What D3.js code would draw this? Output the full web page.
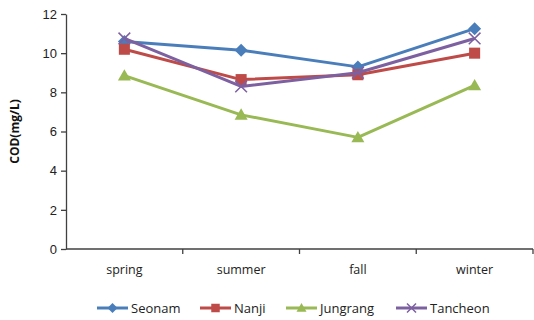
<!DOCTYPE html>
<html>
<head>
<meta charset="utf-8">
<script src="https://cdn.jsdelivr.net/npm/d3@7"></script>
<style>
  html, body { margin: 0; padding: 0; background: #ffffff; }
  svg { display: block; font-family: "Open Sans", "Liberation Sans", sans-serif; }
</style>
</head>
<body>
<svg id="chart" width="534" height="320"></svg>
<script>
// Seasonal COD concentration at four sites
const seasons = ["spring", "summer", "fall", "winter"];
const seonam   = [10.6, 10.15, 9.3, 11.25];
const nanji    = [10.2, 8.65, 8.9, 10.0];
const jungrang = [8.85, 6.85, 5.7, 8.35];
const tancheon = [10.75, 8.3, 9.0, 10.75];
const yTicks = [0, 2, 4, 6, 8, 10, 12];

const series = [
  { name: "Seonam",   values: seonam,   color: "#4a7ebb", marker: "diamond" },
  { name: "Nanji",    values: nanji,    color: "#be4b48", marker: "square" },
  { name: "Jungrang", values: jungrang, color: "#98b954", marker: "triangle" },
  { name: "Tancheon", values: tancheon, color: "#7d60a0", marker: "cross" }
];

const svg = d3.select("#chart");
const margin = { left: 66, right: 1, top: 14, bottom: 71 };
const W = 534, H = 320;

const x = d3.scaleBand().domain(seasons).range([margin.left, W - margin.right]);
const y = d3.scaleLinear().domain([0, 12]).range([H - margin.bottom, margin.top]);

// Y axis
const yAxis = svg.append("g")
  .attr("transform", `translate(${margin.left},0)`)
  .call(d3.axisLeft(y).tickValues(yTicks).tickSize(5).tickSizeOuter(0).tickPadding(4));
yAxis.select(".domain").attr("stroke", "#404040").attr("stroke-width", 1.3);
yAxis.selectAll(".tick line").attr("stroke", "#404040").attr("stroke-width", 1.3);
yAxis.selectAll(".tick text").attr("font-size", 13).attr("fill", "#222");

// X axis with tick marks between categories
const xAxisG = svg.append("g").attr("transform", `translate(0,${y(0)})`);
xAxisG.append("line")
  .attr("x1", margin.left).attr("x2", W - margin.right)
  .attr("stroke", "#404040").attr("stroke-width", 1.3);
const bounds = seasons.map(s => x(s)).concat([x(seasons[seasons.length - 1]) + x.bandwidth()]);
xAxisG.selectAll("line.tk").data(bounds.slice(1)).join("line")
  .attr("class", "tk")
  .attr("x1", d => d).attr("x2", d => d)
  .attr("y1", 0).attr("y2", 5)
  .attr("stroke", "#404040").attr("stroke-width", 1.3);
xAxisG.selectAll("text").data(seasons).join("text")
  .attr("x", d => x(d) + x.bandwidth() / 2)
  .attr("y", 25)
  .attr("text-anchor", "middle")
  .attr("font-size", 12.5)
  .attr("fill", "#222")
  .text(d => d);

// Y axis title
svg.append("text")
  .attr("transform", `translate(19,${(y(0) + y(12)) / 2}) rotate(-90)`)
  .attr("text-anchor", "middle")
  .attr("font-size", 12)
  .attr("font-weight", "bold")
  .attr("fill", "#111")
  .text("COD(mg/L)");

const cx = d => x(d) + x.bandwidth() / 2;

function drawMarker(g, type, color, size) {
  const s = size;
  if (type === "diamond") {
    g.append("path").attr("d", `M0,${-s}L${s},0L0,${s}L${-s},0Z`).attr("fill", color);
  } else if (type === "square") {
    g.append("rect").attr("x", -s * 0.85).attr("y", -s * 0.85)
      .attr("width", s * 1.7).attr("height", s * 1.7).attr("fill", color);
  } else if (type === "triangle") {
    g.append("path").attr("d", `M0,${-s}L${s},${s * 0.75}L${-s},${s * 0.75}Z`).attr("fill", color);
  } else if (type === "cross") {
    const c = s * 0.9;
    g.append("path").attr("d", `M${-c},${-c}L${c},${c}M${-c},${c}L${c},${-c}`)
      .attr("stroke", color).attr("stroke-width", 1.5).attr("fill", "none");
  }
}

const line = d3.line().x((d, i) => cx(seasons[i])).y(d => y(d));

series.forEach(sr => {
  const g = svg.append("g");
  g.append("path")
    .datum(sr.values)
    .attr("d", line)
    .attr("fill", "none")
    .attr("stroke", sr.color)
    .attr("stroke-width", 3)
    .attr("stroke-linejoin", "round");
  sr.values.forEach((v, i) => {
    const m = g.append("g").attr("transform", `translate(${cx(seasons[i])},${y(v)})`);
    drawMarker(m, sr.marker, sr.color, 6.5);
  });
});

// Legend
const legendX = [97, 200, 286, 396];
const legend = svg.append("g").attr("transform", "translate(0,308)");
series.forEach((sr, i) => {
  const g = legend.append("g").attr("transform", `translate(${legendX[i]},0)`);
  g.append("line").attr("x1", 0).attr("x2", 31).attr("y1", 0).attr("y2", 0)
    .attr("stroke", sr.color).attr("stroke-width", 3);
  const m = g.append("g").attr("transform", "translate(15.5,0)");
  drawMarker(m, sr.marker, sr.color, 5);
  g.append("text").attr("x", 34).attr("y", 4.5)
    .attr("font-size", 13).attr("fill", "#222").text(sr.name);
});
</script>
</body>
</html>
